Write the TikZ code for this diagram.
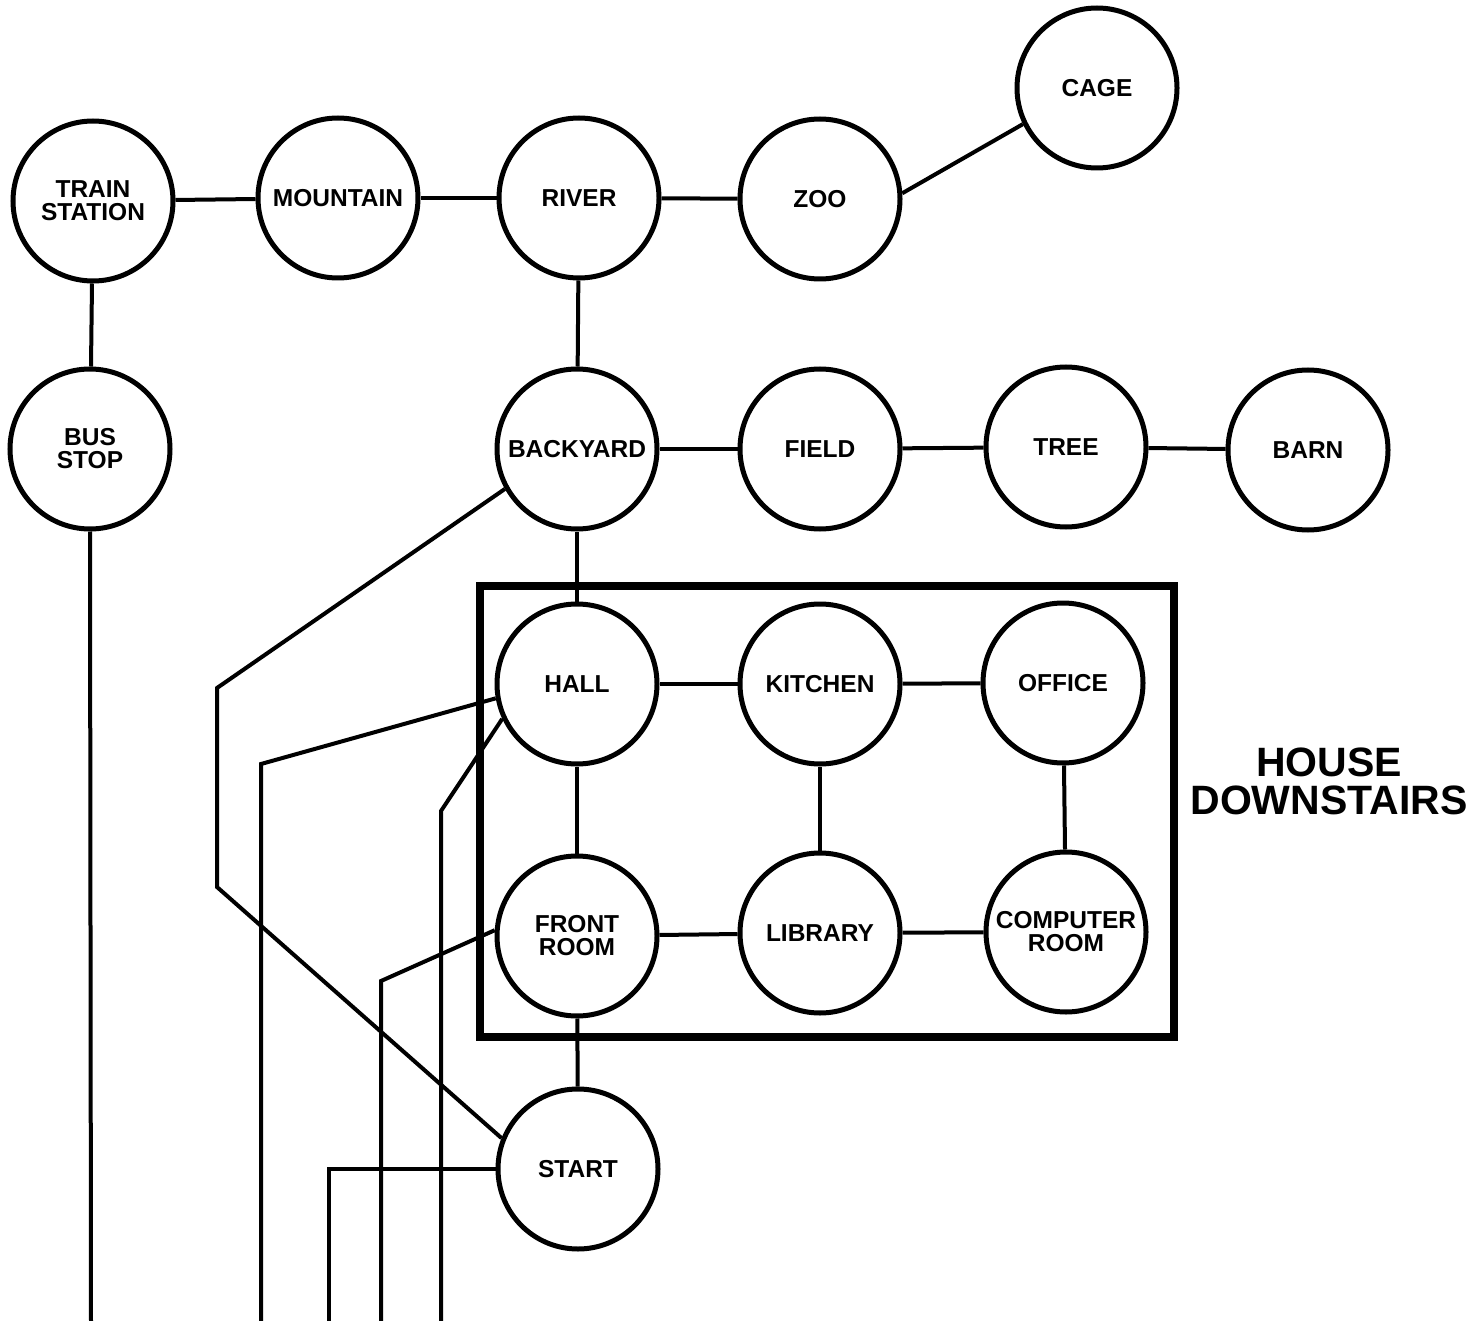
\documentclass[tikz,border=0pt]{standalone}
\usepackage{fontspec}
\setmainfont{Liberation Sans}
\begin{document}
\begin{tikzpicture}[x=1pt,y=-1pt,
  place/.style={circle,draw,line width=5pt,minimum size=160pt,inner sep=0pt,align=center,
    font=\bfseries\fontsize{24.5}{23}\selectfont},
  link/.style={line width=4pt,line join=miter},
  frame/.style={line width=7.5pt},
  title/.style={align=center,font=\bfseries\fontsize{41}{38}\selectfont}]
\useasboundingbox (0,0) rectangle (1470,1321);
\fill[white] (0,0) rectangle (1470,1321);

% nodes
\node[place] (ts)   at (93,201)   {TRAIN\\STATION};
\node[place] (mtn)  at (338,198)  {MOUNTAIN};
\node[place] (riv)  at (579,198)  {RIVER};
\node[place] (zoo)  at (820,199)  {ZOO};
\node[place] (cage) at (1097,88)  {CAGE};
\node[place] (bus)  at (90,449)   {BUS\\STOP};
\node[place] (by)   at (577,449)  {BACKYARD};
\node[place] (fld)  at (820,449)  {FIELD};
\node[place] (tree) at (1066,447) {TREE};
\node[place] (barn) at (1308,450) {BARN};
\node[place] (hall) at (577,684)  {HALL};
\node[place] (kit)  at (820,684)  {KITCHEN};
\node[place] (off)  at (1063,683) {OFFICE};
\node[place] (fr)   at (577,936)  {FRONT\\ROOM};
\node[place] (lib)  at (820,933)  {LIBRARY};
\node[place] (comp) at (1066,932) {COMPUTER\\ROOM};
\node[place] (start) at (578,1169) {START};

% house frame and title
\draw[frame] (480,586) rectangle (1174,1037);
\node[title] (house) at (1329,781) {HOUSE\\DOWNSTAIRS};

% bend points and free ends
\coordinate (byA) at (217,688);
\coordinate (byB) at (217,887);
\coordinate (h1) at (261,764);
\coordinate (h1e) at (261,1321);
\coordinate (h2) at (441,811);
\coordinate (h2e) at (441,1321);
\coordinate (f1) at (381,981);
\coordinate (f1e) at (381,1321);
\coordinate (s1) at (329,1169);
\coordinate (s1e) at (329,1321);
\coordinate (bse) at (91,1321);

% connectors
\draw[link] (ts) -- (mtn);
\draw[link] (mtn) -- (riv);
\draw[link] (riv) -- (zoo);
\draw[link] (zoo.4) -- (cage.206);
\draw[link] (ts) -- (bus);
\draw[link] (bus.south) -- (bse);
\draw[link] (riv) -- (by);
\draw[link] (by) -- (fld);
\draw[link] (fld) -- (tree);
\draw[link] (tree) -- (barn);
\draw[link] (by) -- (hall);
\draw[link] (hall) -- (kit);
\draw[link] (kit) -- (off);
\draw[link] (hall) -- (fr);
\draw[link] (kit) -- (lib);
\draw[link] (off) -- (comp);
\draw[link] (fr) -- (lib);
\draw[link] (lib) -- (comp);
\draw[link] (fr) -- (start);
\draw[link] (by.209) -- (byA) -- (byB) -- (start.158);
\draw[link] (hall.190) -- (h1) -- (h1e);
\draw[link] (hall.205) -- (h2) -- (h2e);
\draw[link] (fr.176) -- (f1) -- (f1e);
\draw[link] (start.west) -- (s1) -- (s1e);
\end{tikzpicture}
\end{document}
